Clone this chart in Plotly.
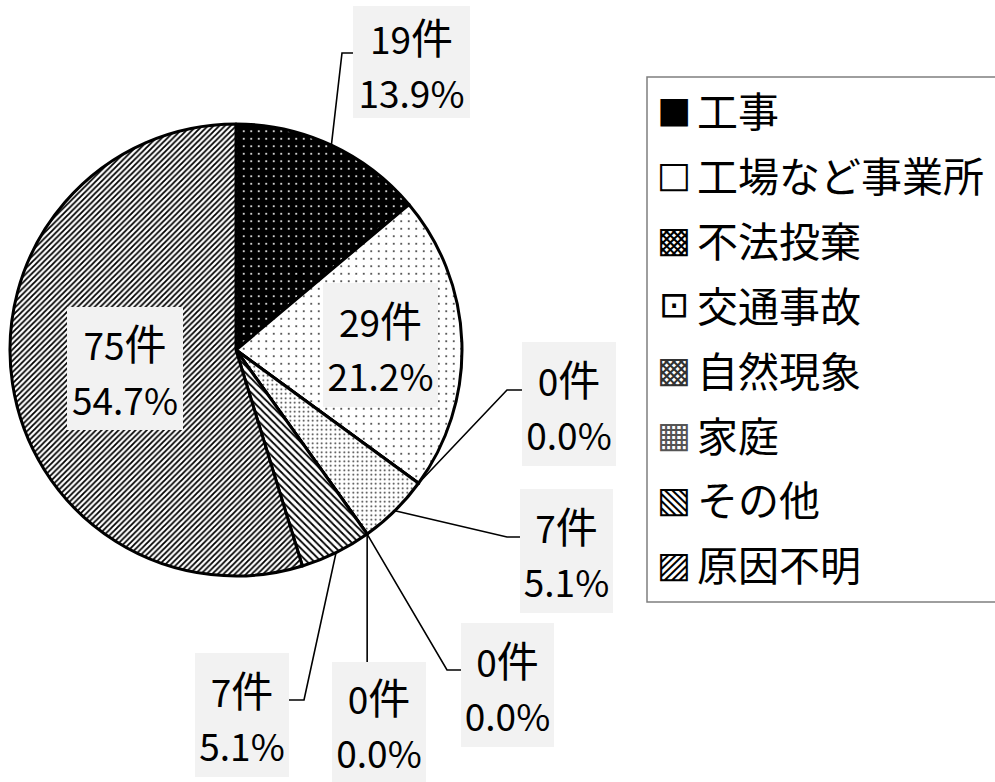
import math
import plotly.graph_objects as go

# ---------------- data ----------------
categories = ["工事", "工場など事業所", "不法投棄", "交通事故", "自然現象", "家庭", "その他", "原因不明"]
counts = [19, 29, 0, 7, 0, 0, 7, 75]
legend_symbols = ["■", "□", "▩", "⊡", "▩", "▦", "▧", "▨"]

# ---------------- styles ----------------
W, H = 995, 782
CX, CY, R = 236, 350, 226          # pie centre / radius in pixels

bg_colors = ["#000000", "#ffffff", "#000000", "#ffffff", "#333333", "#777777", "#ffffff", "#ffffff"]
fg_colors = ["#ffffff", "#222222", "#ffffff", "#222222", "#ffffff", "#ffffff", "#000000", "#000000"]
shapes_pat = [".", ".", ".", ".", "x", "x", "\\", "/"]
sizes_pat = [7.5, 7.5, 5, 4.5, 5, 5, 5, 4.0]
solid_pat = [0.06, 0.05, 0.15, 0.12, 0.3, 0.3, 0.35, 0.45]
symbol_colors = ["#000000", "#000000", "#000000", "#000000", "#333333", "#555555", "#000000", "#000000"]

# label box placement (pixels): centre x, centre y, width, height, leader knee points
label_layout = [
    dict(cx=411, cy=62, w=117, h=112, knees=[(342, 53), (353, 53)]),
    dict(cx=380, cy=345, w=115, h=124, knees=None),
    dict(cx=569, cy=404, w=94, h=124, knees=[(507, 390), (522, 390)]),
    dict(cx=566, cy=551, w=93, h=124, knees=[(507, 537), (520, 537)]),
    dict(cx=508, cy=685, w=93, h=124, knees=[(447, 670), (462, 670)]),
    dict(cx=379, cy=722, w=94, h=120, knees=[("anchor", 662)]),
    dict(cx=242, cy=715, w=94, h=124, knees=[(304, 700), (289, 700)]),
    dict(cx=125, cy=368, w=116, h=123, knees=None),
]

LABEL_FONT = "Noto Sans CJK JP, sans-serif"
TEXT_FONT = "Noto Sans CJK JP, sans-serif"
DIGIT_PX = 37


def px(x):
    return x / W


def py(y):
    return 1 - y / H


def small(s):
    return f'<span style="font-size:{DIGIT_PX}px">{s}</span>'


total = sum(counts)
percents = [f"{c / total * 100:.1f}%" for c in counts]

fig = go.Figure()
fig.add_trace(go.Pie(
    labels=categories,
    values=counts,
    sort=False,
    direction="clockwise",
    rotation=0,
    textinfo="none",
    hoverinfo="label+value+percent",
    showlegend=False,
    domain=dict(x=[px(CX - R), px(CX + R)], y=[py(CY + R), py(CY - R)]),
    marker=dict(
        colors=bg_colors,
        line=dict(color="#000000", width=3),
        pattern=dict(
            shape=shapes_pat,
            fgcolor=fg_colors,
            bgcolor=bg_colors,
            size=sizes_pat,
            solidity=solid_pat,
            fillmode="replace",
        ),
    ),
))

annotations = []
shapes = []

# data labels with leader lines
cum = 0.0
for i, (cat, c) in enumerate(zip(categories, counts)):
    frac = c / total
    mid = (cum + frac / 2) * 2 * math.pi
    cum += frac
    ax = CX + R * math.sin(mid)
    ay = CY - R * math.cos(mid)
    lay = label_layout[i]
    annotations.append(dict(
        x=px(lay["cx"]), y=py(lay["cy"]), xref="paper", yref="paper",
        text=f"{small(c)}件<br>{small(percents[i])}", showarrow=False,
        xanchor="center", yanchor="middle",
        width=lay["w"], height=lay["h"], align="center", valign="middle",
        bgcolor="#f2f2f2", borderpad=0, borderwidth=0,
        font=dict(family=LABEL_FONT, size=42, color="#000000"),
    ))
    if lay["knees"]:
        pts = [(ax, ay)]
        for kx, ky in lay["knees"]:
            pts.append((ax if kx == "anchor" else kx, ky))
        path = "M " + " L ".join(f"{px(x):.5f},{py(y):.5f}" for x, y in pts)
        shapes.append(dict(type="path", xref="paper", yref="paper", path=path,
                           line=dict(color="#000000", width=1.6)))

# legend (box + entries)
LEG_X0, LEG_Y0, LEG_X1, LEG_Y1 = 647, 77, 1000, 602
ROW0, ROW_STEP = 109, 64.9
shapes.append(dict(type="rect", xref="paper", yref="paper",
                   x0=px(LEG_X0), x1=px(LEG_X1), y0=py(LEG_Y1), y1=py(LEG_Y0),
                   line=dict(color="#7f7f7f", width=1.5), fillcolor="rgba(0,0,0,0)"))
for i, cat in enumerate(categories):
    yrow = ROW0 + i * ROW_STEP
    annotations.append(dict(
        x=px(674), y=py(yrow + 1), xref="paper", yref="paper", text=legend_symbols[i],
        showarrow=False, xanchor="center", yanchor="middle",
        font=dict(family="DejaVu Sans", size=36, color=symbol_colors[i]),
    ))
    annotations.append(dict(
        x=px(695), y=py(yrow), xref="paper", yref="paper", text=cat,
        showarrow=False, xanchor="left", yanchor="middle",
        font=dict(family=TEXT_FONT, size=41, color="#000000"),
    ))

fig.update_layout(
    width=W, height=H,
    margin=dict(l=0, r=0, t=0, b=0),
    paper_bgcolor="#ffffff", plot_bgcolor="#ffffff",
    showlegend=False,
    annotations=annotations,
    shapes=shapes,
)

fig.write_html("out.html", config={"displayModeBar": False},
               post_script="document.body.style.margin='0px';document.body.style.overflow='hidden';")
